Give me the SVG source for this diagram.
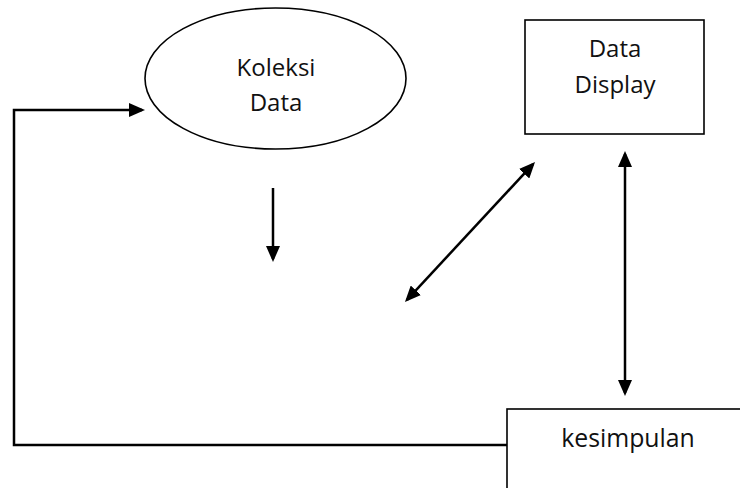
<svg xmlns="http://www.w3.org/2000/svg" width="740" height="488" viewBox="0 0 740 488">
<style>
.shape{fill:#fff;stroke:#000;stroke-width:1.6}
.lbl{font-family:"Open Sans","Liberation Sans",sans-serif;font-size:24px;fill:#111;text-anchor:middle}
.conn{fill:none;stroke:#000;stroke-width:2.5}
</style>
<defs>
<marker id="ah" viewBox="0 0 16 14" refX="13" refY="7" markerWidth="16" markerHeight="14" markerUnits="userSpaceOnUse" orient="auto-start-reverse">
<path d="M0,0 L16,7 L0,14 z" fill="#000"/>
</marker>
</defs>
<rect width="740" height="488" fill="#fff"/>
<g id="koleksi-data">
<ellipse class="shape" cx="275.5" cy="78.5" rx="130.5" ry="70.5"/>
<text class="lbl" x="276" y="76">Koleksi</text>
<text class="lbl" x="276" y="111">Data</text>
</g>
<g id="data-display">
<rect class="shape" x="525" y="20" width="179" height="114"/>
<text class="lbl" x="615" y="57">Data</text>
<text class="lbl" x="615" y="93">Display</text>
</g>
<g id="kesimpulan">
<rect class="shape" x="507" y="409" width="260" height="120"/>
<text class="lbl" x="628" y="447" style="font-size:24.8px">kesimpulan</text>
</g>
<g id="connectors">
<polyline class="conn" points="507,445 14,445 14,110 142,110" marker-end="url(#ah)"/>
<line class="conn" x1="273" y1="188" x2="273" y2="259" marker-end="url(#ah)"/>
<line class="conn" x1="533" y1="164.2" x2="407" y2="299.8" marker-start="url(#ah)" marker-end="url(#ah)"/>
<line class="conn" x1="625" y1="154" x2="625" y2="393" marker-start="url(#ah)" marker-end="url(#ah)"/>
</g>
</svg>
